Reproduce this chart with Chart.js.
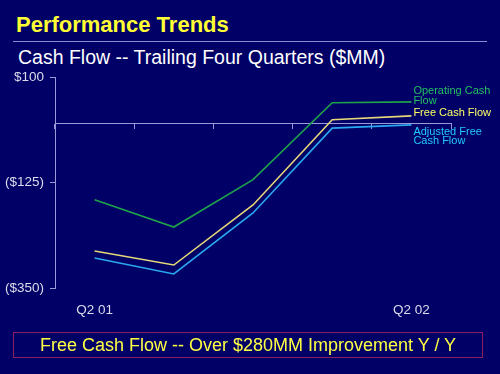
<!DOCTYPE html>
<html>
<head>
<meta charset="utf-8">
<script src="https://cdn.jsdelivr.net/npm/chart.js@4/dist/chart.umd.min.js"></script>
<style>
  html, body { margin: 0; padding: 0; }
  body {
    width: 500px; height: 374px; background: #000066; position: relative; overflow: hidden;
    font-family: "Liberation Sans", Arial, sans-serif;
  }
  #title { position: absolute; left: 16px; top: 12px; font-size: 22px; font-weight: bold; color: #ffff33; }
  #rule { position: absolute; left: 13px; top: 41px; width: 474px; height: 1px; background: #8c8cd0; }
  #subtitle { position: absolute; left: 18px; top: 46px; font-size: 19.5px; color: #ffffff; }
  #note {
    position: absolute; left: 13px; top: 332px; width: 468px; height: 24px;
    border: 1px solid #8a2060; color: #ffff44; font-size: 18px; text-align: center; line-height: 24px;
  }
  #chart { position: absolute; left: 0; top: 0; }
</style>
</head>
<body>
<div id="title">Performance Trends</div>
<div id="rule"></div>
<div id="subtitle">Cash Flow -- Trailing Four Quarters ($MM)</div>
<canvas id="chart" width="500" height="374"></canvas>
<div id="note">Free Cash Flow -- Over $280MM Improvement Y / Y</div>
<script>
// quarters (only first and last are labelled on the slide)
const quarters = ["Q2 01", "Q3 01", "Q4 01", "Q1 02", "Q2 02"];
const tickLabels = ["Q2 01", "", "", "", "Q2 02"];
const yTicks = [100, -125, -350];

// $MM
const operatingCashFlow = [-162, -220, -119, 45, 47];
const freeCashFlow = [-271, -301, -173, 9, 17];
const adjustedFreeCashFlow = [-286, -320, -190, -9, -2];

const seriesNames = ["Operating Cash Flow", "Free Cash Flow", "Adjusted Free Cash Flow"];
const endLabels = [["Operating Cash", "Flow"], ["Free Cash Flow"], ["Adjusted Free", "Cash Flow"]];

const lineColors = ["#1fa34a", "#e6d878", "#2aa8f0"];
const textColors = ["#22c060", "#ffff66", "#22c8ff"];
const axisColor = "#9a9ad8";
const fontFamily = "'Liberation Sans', Arial, sans-serif";

function money(v) {
  return v < 0 ? "($" + Math.abs(v) + ")" : "$" + v;
}

// text at the right end of each line
const endLabelPlugin = {
  id: "endLabels",
  afterDatasetsDraw(chart) {
    const ctx = chart.ctx;
    const offsets = [[-11, -1], [-3], [7, 16]];
    ctx.save();
    ctx.font = "11px " + fontFamily;
    ctx.textBaseline = "middle";
    ctx.textAlign = "left";
    chart.data.datasets.forEach(function (ds, i) {
      const pts = chart.getDatasetMeta(i).data;
      const last = pts[pts.length - 1];
      ctx.fillStyle = textColors[i];
      endLabels[i].forEach(function (line, j) {
        ctx.fillText(line, last.x + 2, last.y + offsets[i][j]);
      });
    });
    ctx.restore();
  },
};

const seriesData = [operatingCashFlow, freeCashFlow, adjustedFreeCashFlow];

new Chart(document.getElementById("chart"), {
  type: "line",
  data: {
    labels: quarters,
    datasets: seriesData.map(function (d, i) {
      return {
        label: seriesNames[i],
        data: d,
        borderColor: lineColors[i],
        borderWidth: 1.6,
        pointRadius: 0,
        tension: 0,
      };
    }),
  },
  options: {
    responsive: false,
    animation: false,
    layout: { padding: { top: 77, right: 49, left: 0, bottom: 0 } },
    plugins: {
      legend: { display: false },
      tooltip: { enabled: false },
    },
    scales: {
      x: {
        type: "category",
        offset: true,
        grid: { display: false, drawTicks: false },
        border: { display: false },
        ticks: {
          color: "#dcdcec",
          font: { size: 13.5, family: fontFamily },
          padding: 14,
          maxRotation: 0,
          autoSkip: false,
          callback: function (v, i) { return tickLabels[i]; },
        },
        afterFit: function (s) { s.height = 86; },
      },
      zeroAxis: {
        type: "category",
        axis: "x",
        position: { y: 0 },
        offset: true,
        grid: { offset: true, drawOnChartArea: false, tickLength: 5, color: axisColor, lineWidth: 1 },
        border: { display: true, color: axisColor, width: 1 },
        ticks: { display: false },
      },
      y: {
        type: "linear",
        min: -350,
        max: 100,
        afterBuildTicks: function (s) { s.ticks = yTicks.map(function (v) { return { value: v }; }); },
        grid: { drawOnChartArea: false, tickLength: 5, color: axisColor },
        border: { display: true, color: axisColor, width: 1 },
        ticks: {
          color: "#dcdcec",
          font: { size: 13.5, family: fontFamily },
          padding: 6,
          callback: function (v) { return money(v); },
        },
        afterFit: function (s) { s.width = 55; },
      },
    },
  },
  plugins: [endLabelPlugin],
});
</script>
</body>
</html>
